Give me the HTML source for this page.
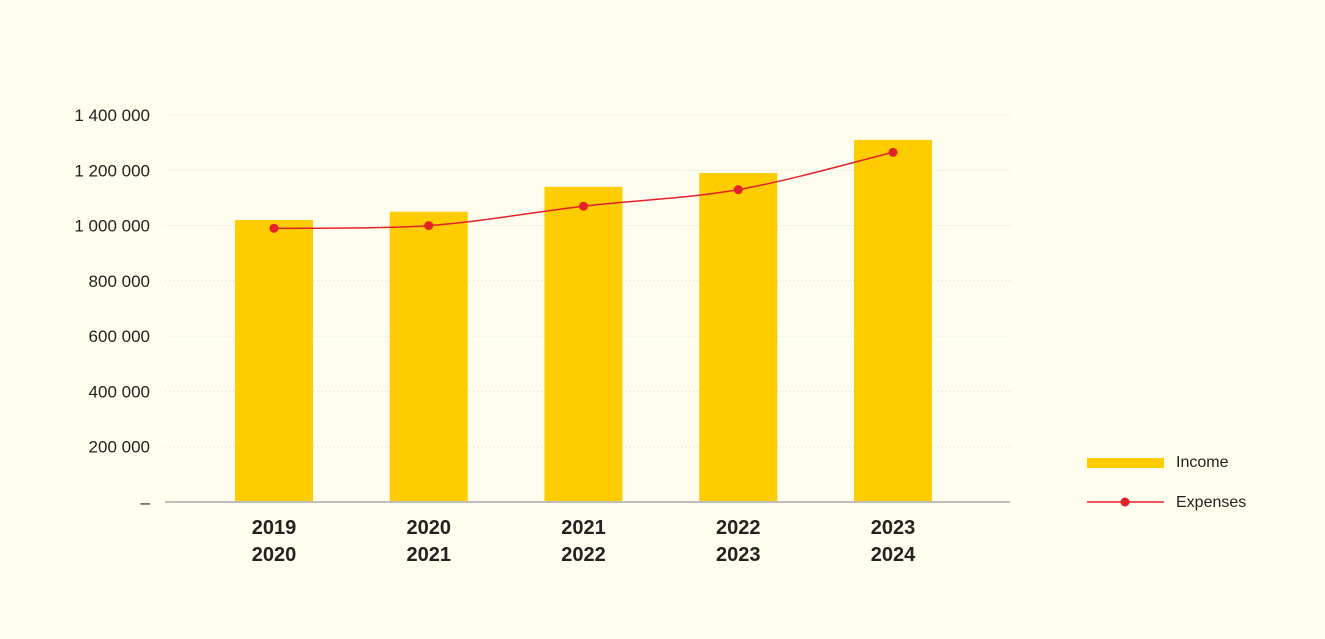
<!DOCTYPE html>
<html><head><meta charset="utf-8"><style>
body{margin:0;background:#fffdee;font-family:"Liberation Sans",sans-serif;}
svg{display:block}
</style></head><body>
<svg id="chart" width="1325" height="639" xmlns="http://www.w3.org/2000/svg">
<rect width="1325" height="639" fill="#fffdee"/>
<g id="grid"></g><g id="bars"></g><g id="line"></g><g id="axes"></g>
<g>
<rect x="1087" y="458" width="77" height="10" fill="#ffcc00"/>
<text x="1176" y="467" font-size="16" fill="#222">Income</text>
<line x1="1087" y1="502" x2="1164" y2="502" stroke="#e3212b" stroke-width="1.5"/>
<circle cx="1125" cy="502" r="4.5" fill="#e3212b"/>
<text x="1176" y="507" font-size="16" fill="#222">Expenses</text>
</g>
</svg>
<script>
const categories=[["2019","2020"],["2020","2021"],["2021","2022"],["2022","2023"],["2023","2024"]];
const income=[1020000,1050000,1140000,1190000,1310000];
const expenses=[990000,1000000,1070000,1130000,1265000];
const ticks=[0,200000,400000,600000,800000,1000000,1200000,1400000];
const tickLabels=["–","200 000","400 000","600 000","800 000","1 000 000","1 200 000","1 400 000"];

const NS="http://www.w3.org/2000/svg";
const y0=502,yTop=115,yMax=1400000,xL=165,xR=1010,x0=274,step=154.75,bw=78;
const y=v=>y0-(v/yMax)*(y0-yTop);
const x=i=>x0+i*step;
function mk(p,tag,at){const e=document.createElementNS(NS,tag);for(const k in at)e.setAttribute(k,at[k]);document.getElementById(p).appendChild(e);return e;}
ticks.forEach((t,i)=>{
 if(i>0){const g=mk('grid','line',{x1:xL,x2:xR,y1:y(t),y2:y(t),stroke:'#d8d6c8','stroke-dasharray':'1 3'});
 
 }
 const l=mk('axes','text',{x:150,y:y(t)+6,'text-anchor':'end','font-size':'17',fill:'#222'});
 l.textContent=tickLabels[i];
 
 
});
const ax=mk('axes','line',{x1:xL,x2:xR,y1:y0,y2:y0,stroke:'#bdbdbd','stroke-width':'2'});


categories.forEach((c,i)=>{
 c.forEach((s,j)=>{const t=mk('axes','text',{x:x(i),y:534+j*27,'text-anchor':'middle','font-size':'20','font-weight':'bold',fill:'#222'});
 t.textContent=s;
 
 });
 const b=mk('bars','rect',{x:x(i)-bw/2,y:y(income[i]),width:bw,height:y0-y(income[i]),fill:'#ffcc00'});
 
 
});
const pts=expenses.map((v,i)=>[x(i),y(v)]);
let d='M'+pts[0].join(',');
for(let i=0;i<pts.length-1;i++){
 const p0=pts[i-1]||pts[i],p1=pts[i],p2=pts[i+1],p3=pts[i+2]||p2,k=6;
 d+=` C${p1[0]+(p2[0]-p0[0])/k},${p1[1]+(p2[1]-p0[1])/k} ${p2[0]-(p3[0]-p1[0])/k},${p2[1]-(p3[1]-p1[1])/k} ${p2[0]},${p2[1]}`;
}
const ln=mk('line','path',{d:d,fill:'none',stroke:'#e3212b','stroke-width':'1.5'});


pts.forEach(p=>{const c=mk('line','circle',{cx:p[0],cy:p[1],r:4.5,fill:'#e3212b'});
 
 });
</script>
</body></html>
